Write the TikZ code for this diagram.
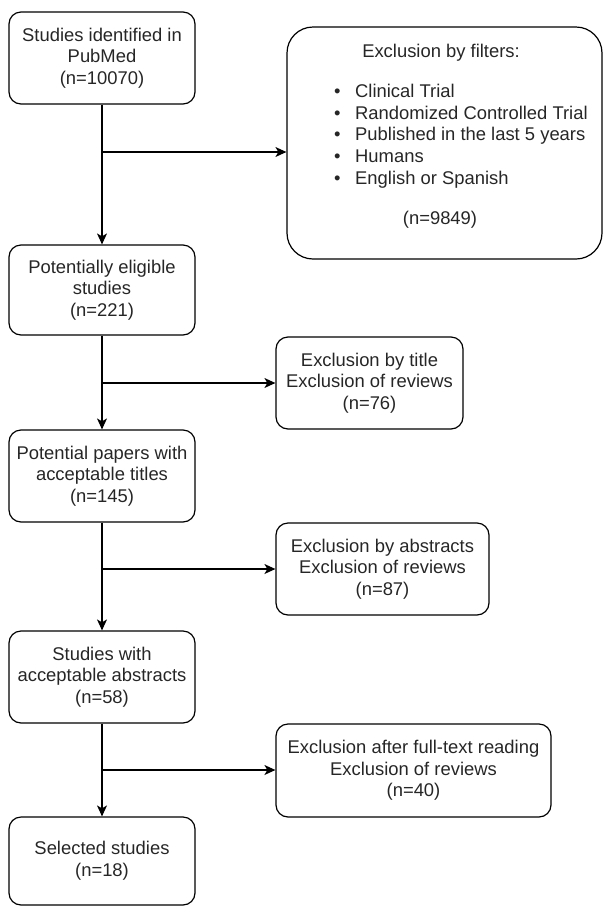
\documentclass[tikz,border=0pt]{standalone}
\usepackage{fontspec}
\setmainfont{Liberation Sans}
\usetikzlibrary{arrows.meta}

\begin{document}
\begin{tikzpicture}[
    x=1pt, y=-1pt,
    every node/.style={font=\fontsize{18.4}{21.7}\selectfont, text=black!85},
    box/.style={draw, rounded corners=12pt, align=center, line width=1.2pt, minimum width=186pt, minimum height=92pt, inner sep=0pt},
    arrow/.style={-{Stealth[length=11pt,width=10pt,inset=3pt]}, line width=1.2pt}
  ]
    \useasboundingbox (0,0) rectangle (605,906);

    % main column
    \node[box] (pubmed) at (102,58) {Studies identified in\\PubMed\\(n=10070)};
    \node[box, minimum height=90pt] (elig) at (102,290) {Potentially eligible\\studies\\(n=221)};
    \node[box] (titles) at (102,476) {Potential papers with\\acceptable titles\\(n=145)};
    \node[box] (abstr) at (102,677) {Studies with\\acceptable abstracts\\(n=58)};
    \node[box, minimum height=88pt] (sel) at (102,861) {Selected studies\\(n=18)};

    % exclusions
    \node[box, rounded corners=26pt, minimum width=315pt, minimum height=232pt] (filt) at (444.5,143) {};
    \node (filthead) at (441,53) {Exclusion by filters:};
    \node[anchor=west, align=left, inner sep=0pt] (filtlist) at (334,136)
      {\makebox[21pt][l]{\textbullet}Clinical Trial\\
       \makebox[21pt][l]{\textbullet}Randomized Controlled Trial\\
       \makebox[21pt][l]{\textbullet}Published in the last 5 years\\
       \makebox[21pt][l]{\textbullet}Humans\\
       \makebox[21pt][l]{\textbullet}English or Spanish};
    \node (filtn) at (440,220) {(n=9849)};
    \node[box, minimum width=187pt] (rtitle) at (369.5,383) {Exclusion by title\\Exclusion of reviews\\(n=76)};
    \node[box, minimum width=213pt] (rabstr) at (382.5,569) {Exclusion by abstracts\\Exclusion of reviews\\(n=87)};
    \node[box, minimum width=275pt, minimum height=93pt] (rfull) at (413.5,770.5) {Exclusion after full-text reading\\Exclusion of reviews\\(n=40)};

    \coordinate (j1) at (102,152);
    \coordinate (j2) at (102,383);
    \coordinate (j3) at (102,569);
    \coordinate (j4) at (102,770);

    \draw[arrow] (pubmed) -- (elig);
    \draw[arrow] (elig) -- (titles);
    \draw[arrow] (titles) -- (abstr);
    \draw[arrow] (abstr) -- (sel);
    \draw[arrow] (j1) -- (j1 -| filt.west);
    \draw[arrow] (j2) -- (j2 -| rtitle.west);
    \draw[arrow] (j3) -- (j3 -| rabstr.west);
    \draw[arrow] (j4) -- (j4 -| rfull.west);
  \end{tikzpicture}
\end{document}
